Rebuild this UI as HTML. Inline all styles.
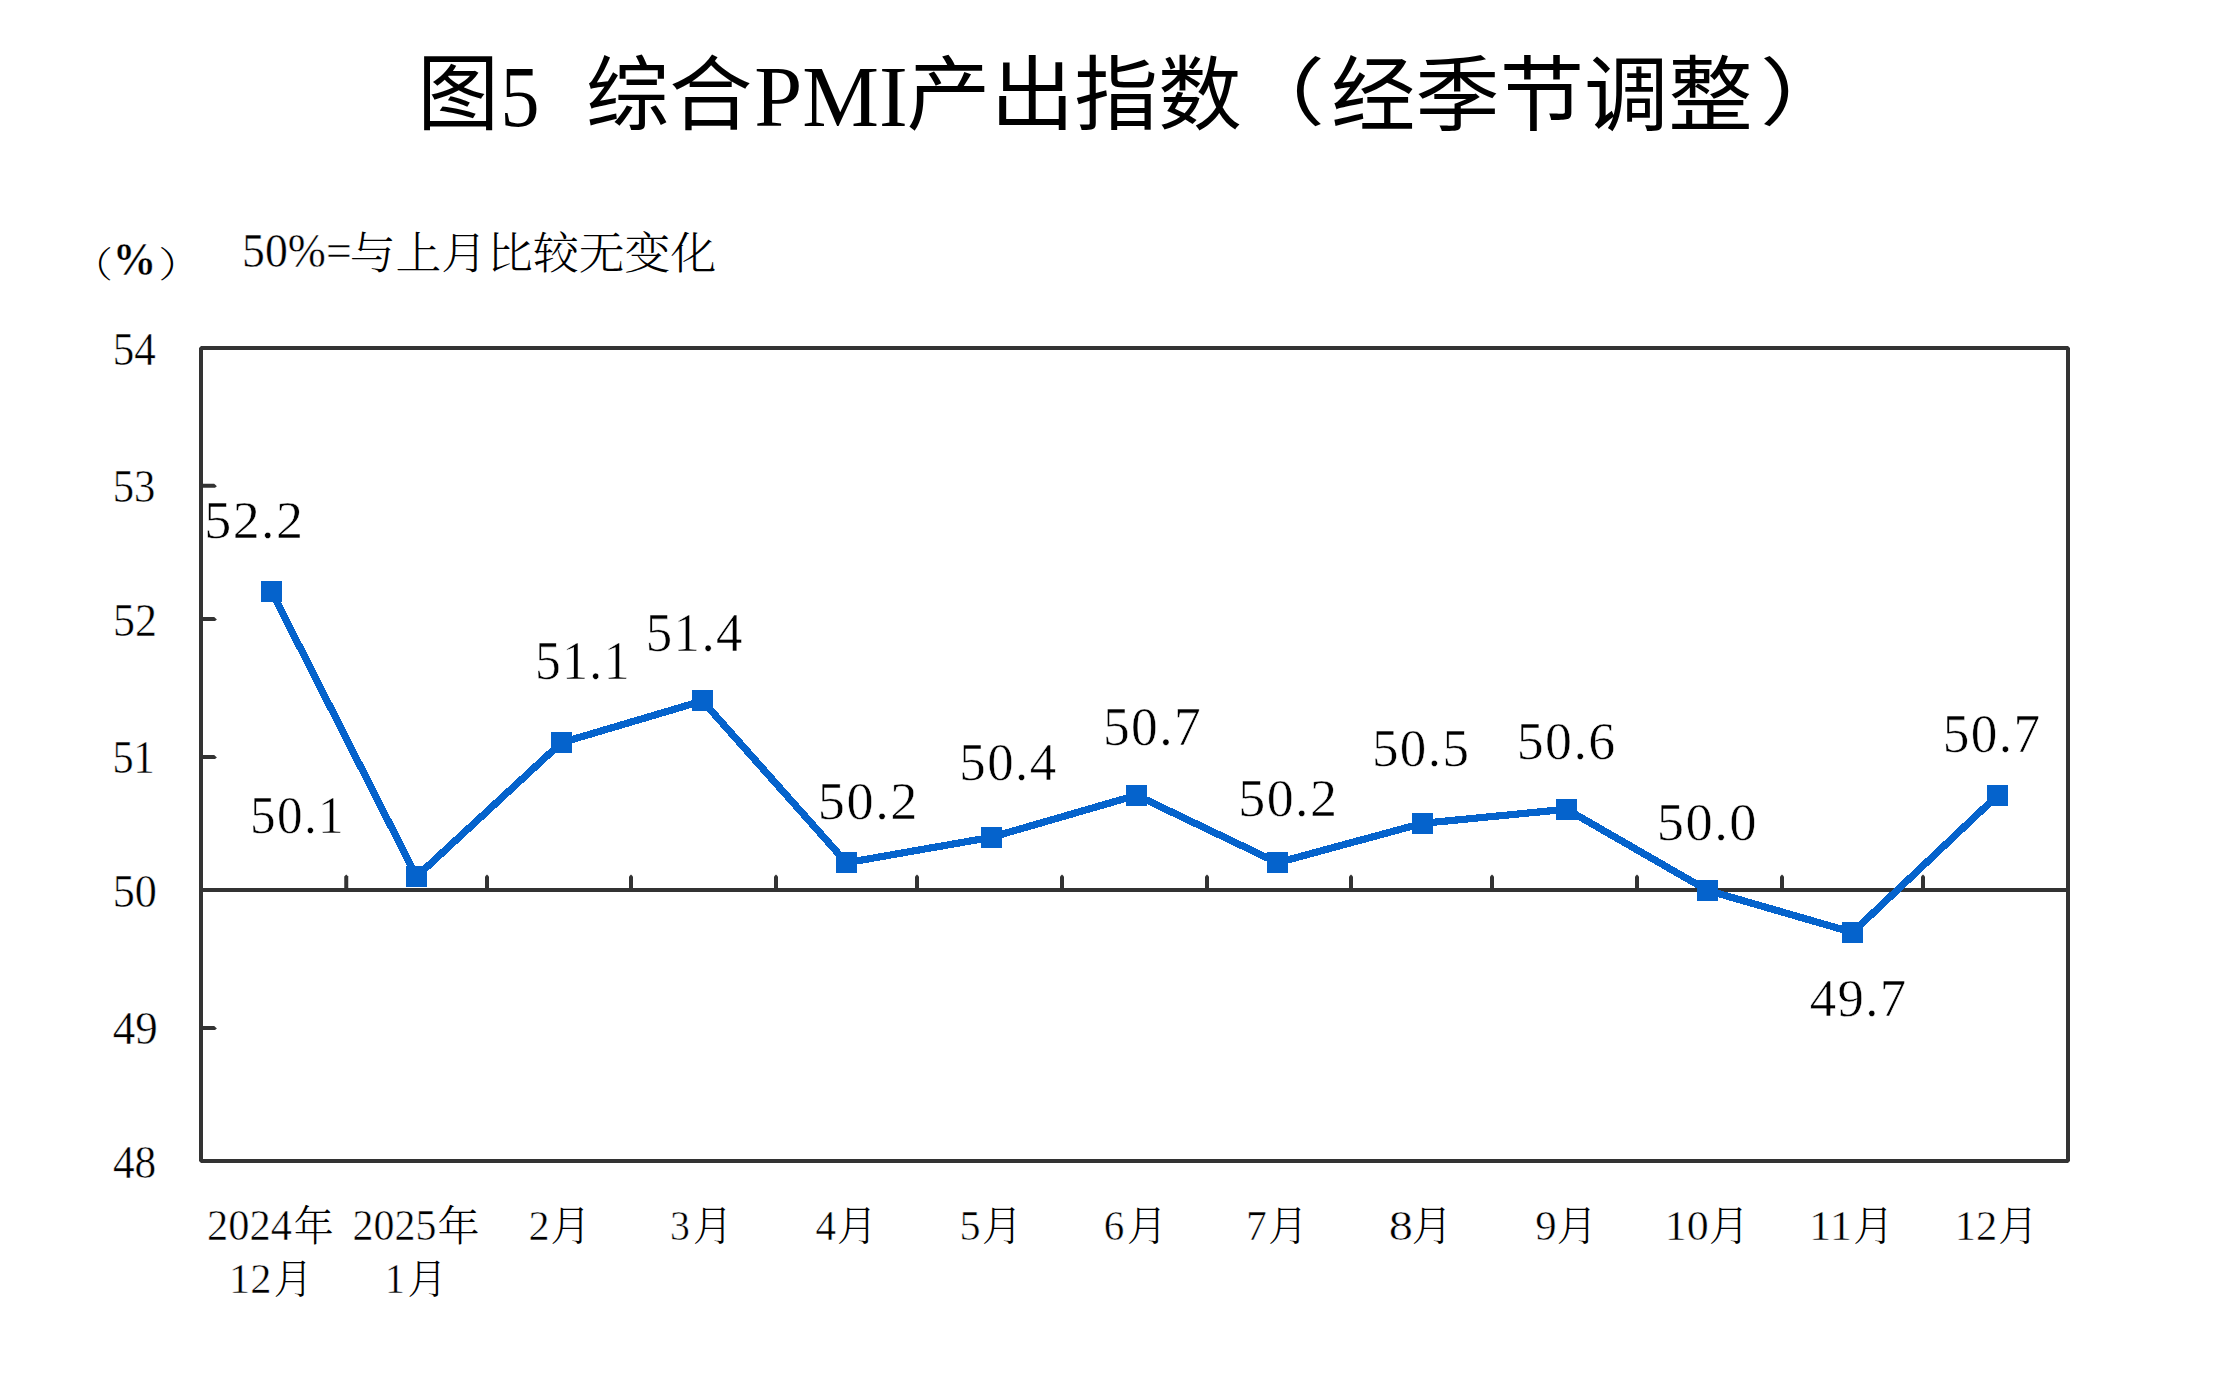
<!DOCTYPE html>
<html lang="zh-CN">
<head>
<meta charset="utf-8">
<title>图5 综合PMI产出指数（经季节调整）</title>
<style>
html,body{margin:0;padding:0;background:#fff;}
body{width:2216px;height:1380px;overflow:hidden;position:relative;}
svg{position:absolute;left:0;top:0;display:block;}
.t{position:absolute;left:0;top:0;white-space:pre;line-height:1;color:#000;transform-origin:0 0;margin:0;padding:0;}
.g{position:absolute;left:0;top:0;margin:0;padding:0;}
.tc{font-family:"Liberation Serif","Noto Sans CJK SC",sans-serif;font-size:84.7px;}
.tl{font-family:"Liberation Serif","Noto Sans CJK SC",sans-serif;font-size:85.3px;}
.uc{font-family:"Liberation Serif","Noto Serif CJK SC",serif;font-size:42.2px;font-weight:200;}
.ub{font-family:"Liberation Serif","Noto Serif CJK SC",serif;font-size:42.2px;font-weight:bold;-webkit-text-stroke:0.4px #fff;}
.sl{font-family:"Liberation Serif","Noto Serif CJK SC",serif;font-size:46px;-webkit-text-stroke:0.4px #fff;}
.sc{font-family:"Liberation Serif","Noto Serif CJK SC",serif;font-size:45.8px;font-weight:300;}
.yl{font-family:"Liberation Serif","Noto Serif CJK SC",serif;font-size:42.2px;-webkit-text-stroke:0.4px #fff;}
.xd{font-family:"Liberation Serif","Noto Serif CJK SC",serif;font-size:42.2px;-webkit-text-stroke:0.5px #fff;}
.xc{font-family:"Liberation Serif","Noto Serif CJK SC",serif;font-size:42.2px;font-weight:300;}
.dl{font-family:"Liberation Serif","Noto Serif CJK SC",serif;font-size:52px;letter-spacing:1.4px;-webkit-text-stroke:0.5px #fff;}
</style>
</head>
<body>
<svg width="2216" height="1380" viewBox="0 0 2216 1380">
<g fill="none" stroke="#333333" stroke-width="4">
<rect x="201" y="348" width="1867" height="813" stroke-linejoin="bevel"/>
<line x1="201" y1="890" x2="2068" y2="890"/>
</g>
<g fill="#333333" stroke="none">
<path d="M201 483.8H214.2L216.9 486.2L215 487.8H201Z"/>
<path d="M201 617.1H214.2L216.9 619.5L215 621.1H201Z"/>
<path d="M201 755.1H214.2L216.9 757.5L215 759.1H201Z"/>
<path d="M201 1026.0H214.2L216.9 1028.4L215 1030.0H201Z"/>
<path d="M344.25 890V876.4L346.25 874.6L348.25 876.4V890Z"/>
<path d="M485.00 890V876.4L487.00 874.6L489.00 876.4V890Z"/>
<path d="M629.00 890V876.4L631.00 874.6L633.00 876.4V890Z"/>
<path d="M774.00 890V876.4L776.00 874.6L778.00 876.4V890Z"/>
<path d="M915.00 890V876.4L917.00 874.6L919.00 876.4V890Z"/>
<path d="M1060.00 890V876.4L1062.00 874.6L1064.00 876.4V890Z"/>
<path d="M1205.00 890V876.4L1207.00 874.6L1209.00 876.4V890Z"/>
<path d="M1349.00 890V876.4L1351.00 874.6L1353.00 876.4V890Z"/>
<path d="M1490.00 890V876.4L1492.00 874.6L1494.00 876.4V890Z"/>
<path d="M1635.00 890V876.4L1637.00 874.6L1639.00 876.4V890Z"/>
<path d="M1780.00 890V876.4L1782.00 874.6L1784.00 876.4V890Z"/>
<path d="M1921.00 890V876.4L1923.00 874.6L1925.00 876.4V890Z"/>
</g>
<polyline points="271.60,591.60 416.50,876.60 561.25,742.75 702.50,700.90 846.50,862.75 991.50,837.25 1136.50,795.25 1277.50,862.75 1422.00,823.40 1566.60,809.25 1707.50,890.40 1852.50,932.40 1997.50,795.40" fill="none" stroke="#0563CC" stroke-width="7.2" stroke-linejoin="round" shape-rendering="crispEdges"/>
<g fill="#0563CC" shape-rendering="crispEdges">
<rect x="261" y="581" width="21" height="21"/>
<rect x="406" y="866" width="21" height="21"/>
<rect x="551" y="732" width="21" height="21"/>
<rect x="692" y="690" width="21" height="21"/>
<rect x="836" y="852" width="21" height="21"/>
<rect x="981" y="827" width="21" height="21"/>
<rect x="1126" y="785" width="21" height="21"/>
<rect x="1267" y="852" width="21" height="21"/>
<rect x="1412" y="813" width="21" height="21"/>
<rect x="1556" y="799" width="21" height="21"/>
<rect x="1697" y="880" width="21" height="21"/>
<rect x="1842" y="922" width="21" height="21"/>
<rect x="1987" y="785" width="21" height="21"/>
</g></svg>
<div class="g" id="title"><span id="t0" class="t tc" style="transform:translate(417.36px,54.00px) scale(0.9649,0.9836)">图</span><span id="t1" class="t tl" style="transform:translate(500.43px,54.00px) scale(0.9143,1.0088)">5  </span><span id="t2" class="t tc" style="transform:translate(585.80px,56.00px) scale(0.9832,0.9594)">综合</span><span id="t3" class="t tl" style="transform:translate(754.23px,55.00px) scale(1.0119,1.0045)">PMI</span><span id="t4" class="t tc" style="transform:translate(906.53px,56.00px) scale(0.9902,0.9563)">产出指数</span><span id="t5" class="t tc" style="transform:translate(1232.64px,58.00px) scale(1.0909,0.8704)">（</span><span id="t6" class="t tc" style="transform:translate(1331.01px,56.00px) scale(0.9958,0.9715)">经季节调整</span><span id="t7" class="t tc" style="transform:translate(1759.84px,58.00px) scale(1.1023,0.8704)">）</span></div>
<div class="g" id="unit"><span id="t8" class="t uc" style="transform:translate(72.65px,248.00px) scale(0.9500,0.8538)">（</span><span id="t9" class="t ub" style="transform:translate(112.73px,237.00px) scale(1.0309,1.0857)">%</span><span id="t10" class="t uc" style="transform:translate(158.35px,248.00px) scale(1.0167,0.8538)">）</span></div>
<div class="g" id="sub"><span id="t11" class="t sl" style="transform:translate(242.06px,227.00px) scale(0.9944,1.0548)">50%=</span><span id="t12" class="t sc" style="transform:translate(349.65px,232.00px) scale(1.0006,0.9698)">与上月比较无变化</span></div>
<span id="t13" class="t yl" style="transform:translate(112.79px,326.00px) scale(1.0205,1.1107)">54</span>
<span id="t14" class="t yl" style="transform:translate(112.78px,463.00px) scale(1.0105,1.1107)">53</span>
<span id="t15" class="t yl" style="transform:translate(113.12px,597.00px) scale(1.0421,1.1143)">52</span>
<span id="t16" class="t yl" style="transform:translate(112.48px,734.00px) scale(1.0007,1.1143)">51</span>
<span id="t17" class="t yl" style="transform:translate(112.74px,868.00px) scale(1.0467,1.1143)">50</span>
<span id="t18" class="t yl" style="transform:translate(112.63px,1005.00px) scale(1.0667,1.1214)">49</span>
<span id="t19" class="t yl" style="transform:translate(112.96px,1139.00px) scale(1.0256,1.1143)">48</span>
<div class="g" id="x0"><span id="t20" class="t xd" style="transform:translate(207.11px,1203.00px) scale(1.0062,1.0464)">2024</span><span id="t21" class="t xc" style="transform:translate(293.82px,1206.00px) scale(0.9489,0.9875)">年</span><span id="t22" class="t xd" style="transform:translate(228.97px,1258.00px) scale(1.0069,0.9893)">12</span><span id="t23" class="t xc" style="transform:translate(273.66px,1260.00px) scale(0.9219,0.9553)">月</span></div>
<div class="g" id="x1"><span id="t24" class="t xd" style="transform:translate(352.51px,1203.00px) scale(0.9938,1.0464)">2025</span><span id="t25" class="t xc" style="transform:translate(437.49px,1206.00px) scale(1.0007,0.9875)">年</span><span id="t26" class="t xd" style="transform:translate(384.96px,1258.00px) scale(0.9464,0.9893)">1</span><span id="t27" class="t xc" style="transform:translate(407.61px,1260.00px) scale(0.9385,0.9553)">月</span></div>
<div class="g" id="x2"><span id="t28" class="t xd" style="transform:translate(528.50px,1204.00px) scale(1.0000,1.0214)">2</span><span id="t29" class="t xc" style="transform:translate(550.59px,1206.00px) scale(0.9531,0.9605)">月</span></div>
<div class="g" id="x3"><span id="t30" class="t xd" style="transform:translate(670.12px,1204.00px) scale(0.9412,1.0214)">3</span><span id="t31" class="t xc" style="transform:translate(693.12px,1206.00px) scale(0.9375,0.9605)">月</span></div>
<div class="g" id="x4"><span id="t32" class="t xd" style="transform:translate(815.40px,1204.00px) scale(0.9752,1.0214)">4</span><span id="t33" class="t xc" style="transform:translate(837.09px,1206.00px) scale(0.9531,0.9605)">月</span></div>
<div class="g" id="x5"><span id="t34" class="t xd" style="transform:translate(959.50px,1204.00px) scale(1.0000,1.0214)">5</span><span id="t35" class="t xc" style="transform:translate(982.09px,1206.00px) scale(0.9531,0.9605)">月</span></div>
<div class="g" id="x6"><span id="t36" class="t xd" style="transform:translate(1103.65px,1204.00px) scale(0.9739,1.0214)">6</span><span id="t37" class="t xc" style="transform:translate(1127.09px,1206.00px) scale(0.9531,0.9605)">月</span></div>
<div class="g" id="x7"><span id="t38" class="t xd" style="transform:translate(1246.04px,1204.00px) scale(0.9853,1.0214)">7</span><span id="t39" class="t xc" style="transform:translate(1268.35px,1206.00px) scale(0.9385,0.9605)">月</span></div>
<div class="g" id="x8"><span id="t40" class="t xd" style="transform:translate(1388.71px,1204.00px) scale(1.1471,1.0214)">8</span><span id="t41" class="t xc" style="transform:translate(1411.83px,1206.00px) scale(0.9609,0.9605)">月</span></div>
<div class="g" id="x9"><span id="t42" class="t xd" style="transform:translate(1535.24px,1204.00px) scale(1.0139,1.0214)">9</span><span id="t43" class="t xc" style="transform:translate(1556.83px,1206.00px) scale(0.9609,0.9605)">月</span></div>
<div class="g" id="x10"><span id="t44" class="t xd" style="transform:translate(1664.80px,1204.00px) scale(1.0433,1.0214)">10</span><span id="t45" class="t xc" style="transform:translate(1709.09px,1206.00px) scale(0.9531,0.9605)">月</span></div>
<div class="g" id="x11"><span id="t46" class="t xd" style="transform:translate(1809.00px,1204.00px) scale(1.0597,1.0214)">11</span><span id="t47" class="t xc" style="transform:translate(1853.33px,1206.00px) scale(0.9609,0.9605)">月</span></div>
<div class="g" id="x12"><span id="t48" class="t xd" style="transform:translate(1954.72px,1204.00px) scale(1.0069,1.0214)">12</span><span id="t49" class="t xc" style="transform:translate(1998.36px,1206.00px) scale(0.9385,0.9605)">月</span></div>
<span id="t50" class="t dl" style="transform:translate(204.18px,494.00px) scale(1.0383,1.0253)">52.2</span>
<span id="t51" class="t dl" style="transform:translate(250.05px,789.00px) scale(0.9831,1.0238)">50.1</span>
<span id="t52" class="t dl" style="transform:translate(535.03px,633.00px) scale(0.9916,1.0758)">51.1</span>
<span id="t53" class="t dl" style="transform:translate(645.70px,605.00px) scale(1.0165,1.0608)">51.4</span>
<span id="t54" class="t dl" style="transform:translate(817.87px,775.00px) scale(1.0449,1.0152)">50.2</span>
<span id="t55" class="t dl" style="transform:translate(959.33px,736.00px) scale(1.0165,1.0296)">50.4</span>
<span id="t56" class="t dl" style="transform:translate(1102.92px,700.00px) scale(1.0275,1.0429)">50.7</span>
<span id="t57" class="t dl" style="transform:translate(1238.18px,772.00px) scale(1.0383,1.0238)">50.2</span>
<span id="t58" class="t dl" style="transform:translate(1371.94px,722.00px) scale(1.0194,1.0180)">50.5</span>
<span id="t59" class="t dl" style="transform:translate(1516.64px,715.00px) scale(1.0357,1.0296)">50.6</span>
<span id="t60" class="t dl" style="transform:translate(1656.65px,796.00px) scale(1.0489,1.0238)">50.0</span>
<span id="t61" class="t dl" style="transform:translate(1809.74px,973.00px) scale(1.0134,1.0069)">49.7</span>
<span id="t62" class="t dl" style="transform:translate(1942.68px,707.00px) scale(1.0247,1.0442)">50.7</span>
</body>
</html>
